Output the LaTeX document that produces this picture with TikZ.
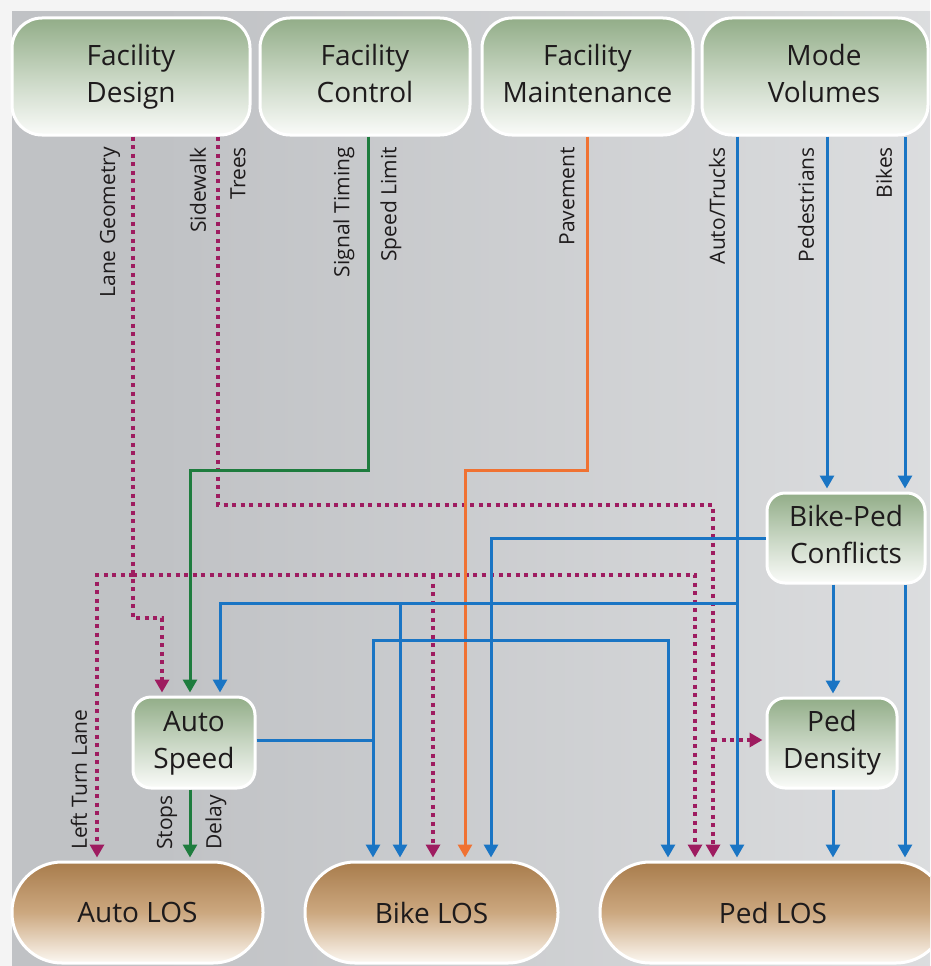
\documentclass[tikz,border=0pt]{standalone}
\usepackage{fontspec}
\setmainfont{Open Sans}
\usetikzlibrary{arrows.meta}
\definecolor{txt}{RGB}{30,27,28}
\definecolor{mag}{RGB}{158,28,96}
\definecolor{grn}{RGB}{30,124,62}
\definecolor{org}{RGB}{240,114,50}
\definecolor{blu}{RGB}{26,117,196}
\definecolor{gTop}{RGB}{146,173,136}
\definecolor{gMid}{RGB}{200,214,195}
\definecolor{gBot}{RGB}{250,251,249}
\definecolor{bTop}{RGB}{168,124,76}
\definecolor{bMid}{RGB}{204,168,128}
\definecolor{bBot}{RGB}{252,248,242}
\definecolor{bgA}{RGB}{236,236,236}
\definecolor{bgB}{RGB}{192,194,197}
\definecolor{bgC}{RGB}{236,237,238}
\definecolor{pagebg}{RGB}{244,244,244}
\pgfdeclarehorizontalshading{bgshade}{100bp}{color(0bp)=(bgA); color(9bp)=(bgB); color(33bp)=(bgB); color(100bp)=(bgC)}
\begin{document}
\begin{tikzpicture}[x=1pt,y=-1pt,
  topbox/.style={rectangle, rounded corners=30pt, draw=white, line width=3pt,
    top color=gTop, bottom color=gBot, middle color=gMid, text=txt,
    font=\fontsize{28}{37}\selectfont, align=center, inner sep=0pt},
  midbox/.style={topbox, rounded corners=18pt},
  losbox/.style={rectangle, rounded corners=50pt, draw=white, line width=3pt,
    top color=bTop, bottom color=bBot, middle color=bMid, text=txt,
    font=\fontsize{28}{37}\selectfont, inner sep=0pt},
  lbl/.style={rotate=90, font=\fontsize{21}{21}\selectfont, text=txt, inner sep=0pt},
  arr/.style={-{Triangle[width=14pt,length=13pt]}, shorten >=3pt},
  bline/.style={draw=blu, line width=3pt},
  gline/.style={draw=grn, line width=3pt},
  oline/.style={draw=org, line width=3pt},
  mline/.style={draw=mag, line width=4pt, dash pattern=on 4pt off 4.5pt}
]
\useasboundingbox (0,0) rectangle (930,966);
\clip (0,0) rectangle (930,966);
\fill[pagebg] (0,0) rectangle (930,966);
\shade[shading=bgshade] (12,12) rectangle (930,966);

% top boxes
\node[topbox, minimum width=238pt, minimum height=117pt] (fd) at (131,76.5) {Facility\strut\\Design\strut};
\node[topbox, minimum width=210pt, minimum height=117pt] (fc) at (365,76.5) {Facility\strut\\Control\strut};
\node[topbox, minimum width=211pt, minimum height=117pt] (fm) at (587.5,76.5) {Facility\strut\\Maintenance\strut};
\node[topbox, minimum width=226pt, minimum height=117pt] (mv) at (815,76.5) {\hspace*{18pt}Mode\strut\\\hspace*{18pt}Volumes\strut};

% middle boxes
\node[midbox, minimum width=158pt, minimum height=90pt] (bp) at (846,538) {Bike-Ped\strut\\Conflicts\strut};
\node[midbox, minimum width=130pt, minimum height=90pt] (pd) at (832,743) {Ped\strut\\Density\strut};
\node[midbox, minimum width=122pt, minimum height=91pt] (as) at (194,742.5) {Auto\strut\\Speed\strut};

% bottom boxes
\node[losbox, minimum width=251pt, minimum height=101pt] (al) at (137.5,912.5) {Auto LOS};
\node[losbox, minimum width=253pt, minimum height=101pt] (bl) at (431.5,912.5) {Bike LOS};
\node[losbox, minimum width=346pt, minimum height=101pt] (pl) at (773,912.5) {Ped LOS};

% x positions
\foreach \n/\v in {97/97,133/133,162/162,190/190,218/218,220/220,368/368,373/373,400/400,433/433,465/465,491/491,587/587,668/668,695/695,713/713,737/737,827/827,833/833,905/905}
  \coordinate (x\n) at (\v,0);
\coordinate (jLG) at (133,575);
\coordinate (jAT) at (737,603);
\coordinate (jAS) at (373,740);

% Lane Geometry
\draw[mline, arr] (x133 |- fd.south) -- (133,618) -| (x162 |- as.north);
\draw[mline, arr] (jLG) -| (x97 |- al.north);
\draw[mline, arr] (jLG) -| (x695 |- pl.north);
\draw[mline, arr] (433,575) -- (x433 |- bl.north);
% Sidewalk / Trees
\draw[mline, arr] (x218 |- fd.south) -- (218,505) -| (x713 |- pl.north);
\draw[mline, arr] (713,740) -- (pd.west |- 0,740);
% Signal Timing / Speed Limit
\draw[gline, arr] (x368 |- fc.south) -- (368,470) -| (x190 |- as.north);
% Pavement
\draw[oline, arr] (x587 |- fm.south) -- (587,470) -| (x465 |- bl.north);
% Auto/Trucks
\draw[bline, arr] (x737 |- mv.south) -- (x737 |- pl.north);
\draw[bline, arr] (jAT) -| (x220 |- as.north);
\draw[bline, arr] (400,603) -- (x400 |- bl.north);
% Pedestrians, Bikes
\draw[bline, arr] (x827 |- mv.south) -- (x827 |- bp.north);
\draw[bline, arr] (x905 |- mv.south) -- (x905 |- bp.north);
\draw[bline, arr] (x905 |- bp.south) -- (x905 |- pl.north);
% Bike-Ped Conflicts
\draw[bline, arr] (bp.west) -| (x491 |- bl.north);
\draw[bline, arr] (x833 |- bp.south) -- (x833 |- pd.north);
% Ped Density
\draw[bline, arr] (x833 |- pd.south) -- (x833 |- pl.north);
% Auto Speed
\draw[bline, arr] (as.east |- jAS) -| (x373 |- bl.north);
\draw[bline, arr] (jAS) |- (668,640) -- (x668 |- pl.north);
\draw[gline, arr] (x190 |- as.south) -- (x190 |- al.north);

% labels
\node[lbl, anchor=east] (tLG) at (110,147) {Lane Geometry};
\node[lbl, anchor=east] (tSW) at (198,147) {Sidewalk};
\node[lbl, anchor=east] (tTR) at (238,147) {Trees};
\node[lbl, anchor=east] (tST) at (344,147) {Signal Timing};
\node[lbl, anchor=east] (tSL) at (391,147) {Speed Limit};
\node[lbl, anchor=east] (tPV) at (567,147) {Pavement};
\node[lbl, anchor=east] (tAT) at (717,147) {Auto/Trucks};
\node[lbl, anchor=east] (tPE) at (806,147) {Pedestrians};
\node[lbl, anchor=east] (tBK) at (884,147) {Bikes};
\node[lbl, anchor=west] (tLT) at (79,850) {Left Turn Lane};
\node[lbl, anchor=west] (tSP) at (167,850) {Stops};
\node[lbl, anchor=west] (tDL) at (216,850) {Delay};
\end{tikzpicture}
\end{document}
